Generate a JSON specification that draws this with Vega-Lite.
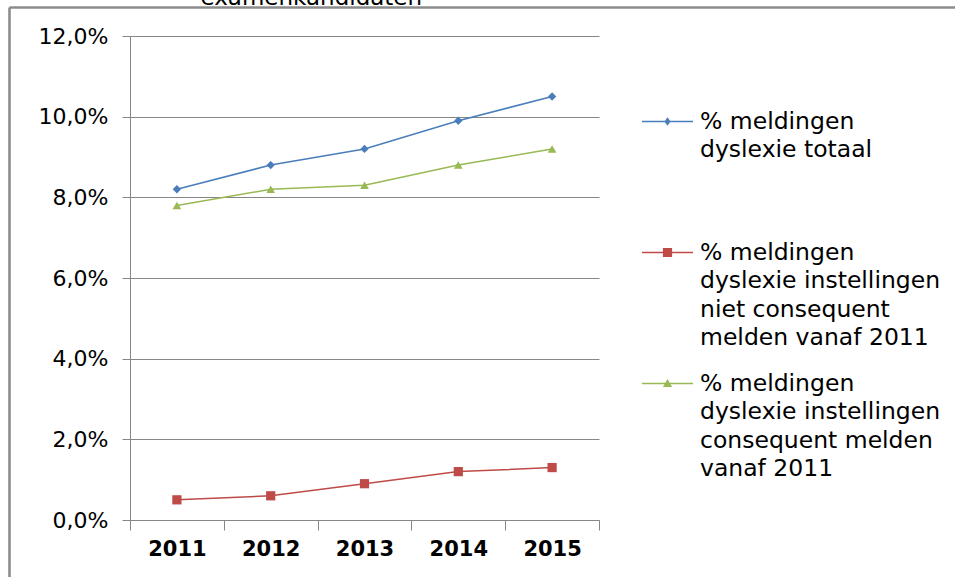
{
  "$schema": "https://vega.github.io/schema/vega-lite/v6.json",
  "width": 946,
  "height": 570,
  "autosize": {"type": "none"},
  "padding": {"left": 9, "top": 7, "right": 0, "bottom": 0},
  "background": "white",
  "data": {
    "values": [
      {"year": "2011", "series": "A", "value": 8.2},
      {"year": "2012", "series": "A", "value": 8.8},
      {"year": "2013", "series": "A", "value": 9.2},
      {"year": "2014", "series": "A", "value": 9.9},
      {"year": "2015", "series": "A", "value": 10.5},
      {"year": "2011", "series": "B", "value": 0.5},
      {"year": "2012", "series": "B", "value": 0.6},
      {"year": "2013", "series": "B", "value": 0.9},
      {"year": "2014", "series": "B", "value": 1.2},
      {"year": "2015", "series": "B", "value": 1.3},
      {"year": "2011", "series": "C", "value": 7.8},
      {"year": "2012", "series": "C", "value": 8.2},
      {"year": "2013", "series": "C", "value": 8.3},
      {"year": "2014", "series": "C", "value": 8.8},
      {"year": "2015", "series": "C", "value": 9.2}
    ]
  },
  "layer": [
    {
      "encoding": {
        "x": {
          "field": "year", "type": "ordinal",
          "scale": {"type": "band", "paddingInner": 0, "paddingOuter": 0, "range": [121, 590]},
          "axis": {"title": null, "orient": "bottom", "offset": -57, "labelAngle": 0, "tickBand": "extent", "tickSize": 10, "labelPadding": 8, "labelFontSize": 21, "labelFontWeight": "bold", "labelColor": "black", "domainColor": "#868686", "tickColor": "#868686", "grid": false}
        },
        "y": {
          "field": "value", "type": "quantitative",
          "scale": {"domain": [0, 12], "nice": false, "range": [513, 29]},
          "axis": {"title": null, "orient": "left", "offset": -121, "values": [0, 2, 4, 6, 8, 10, 12], "labelExpr": "replace(format(datum.value, '.1f'), '.', ',') + '%'", "tickSize": 8, "labelPadding": 14, "labelFontSize": 22, "labelColor": "black", "domainColor": "#868686", "tickColor": "#868686", "gridColor": "#868686", "gridOpacity": 1}
        },
        "color": {
          "field": "series", "type": "nominal",
          "scale": {"domain": ["A", "B", "C"], "range": ["#4A7EBB", "#BE4B48", "#98B954"]},
          "legend": {
            "orient": "none", "legendX": 633, "legendY": 89, "title": null,
            "labelFontSize": 23.5, "labelColor": "black", "labelLimit": 400, "labelOffset": 7,
            "symbolSize": 2601, "symbolType": "M-1,-0.03L1,-0.03L1,0.03L-1,0.03Z", "symbolStrokeWidth": 0, "rowPadding": 8,
            "labelExpr": "datum.value == 'A' ? ['% meldingen', 'dyslexie totaal', '', ''] : datum.value == 'B' ? ['% meldingen', 'dyslexie instellingen', 'niet consequent', 'melden vanaf 2011'] : ['% meldingen', 'dyslexie instellingen', 'consequent melden', 'vanaf 2011']",
            "encode": {
              "labels": {"update": {"lineHeight": {"value": 28.5}}},
              "symbols": {"update": {
                "shape": {"signal": "datum.value == 'A' ? 'M-1,-0.03L1,-0.03L1,0.03L-1,0.03Z M0,-0.17L0.12,0L0,0.17L-0.12,0Z' : datum.value == 'B' ? 'M-1,-0.03L1,-0.03L1,0.03L-1,0.03Z M-0.18,-0.18L0.18,-0.18L0.18,0.18L-0.18,0.18Z' : 'M-1,-0.03L1,-0.03L1,0.03L-1,0.03Z M0,-0.18L0.18,0.14L-0.18,0.14Z'"},
                "size": {"value": 2601},
                "fill": {"signal": "scale('color', datum.value)"},
                "fillOpacity": {"value": 1},
                "opacity": {"value": 1},
                "strokeWidth": {"value": 0}
              }}
            }
          }
        }
      },
      "layer": [
        {"mark": {"type": "line", "strokeWidth": 1.5}},
        {"transform": [{"filter": "datum.series == 'A'"}], "mark": {"type": "point", "filled": true, "opacity": 1, "shape": "diamond", "size": 70}},
        {"transform": [{"filter": "datum.series == 'B'"}], "mark": {"type": "point", "filled": true, "opacity": 1, "shape": "square", "size": 85}},
        {"transform": [{"filter": "datum.series == 'C'"}], "mark": {"type": "point", "filled": true, "opacity": 1, "shape": "triangle-up", "size": 75}}
      ]
    },
    {
      "mark": {"type": "point", "opacity": 0},
      "encoding": {
        "x": {"field": "value", "type": "quantitative", "scale": {"range": [0, 946]}, "axis": {"orient": "top", "title": "examenkandidaten", "titleX": 191, "titleY": -3, "titleAlign": "left", "titleAnchor": "start", "titleBaseline": "alphabetic", "titleFontSize": 23, "titleFontWeight": "normal", "titleColor": "black", "labels": false, "ticks": false, "grid": false, "minExtent": 0, "maxExtent": 0, "domainCap": "butt", "domainColor": "#8c8c8c", "domainWidth": 2.6}},
        "y": {"field": "value", "type": "quantitative", "axis": {"orient": "left", "title": null, "labels": false, "ticks": false, "grid": false, "minExtent": 0, "maxExtent": 0, "domainCap": "butt", "domainColor": "#8c8c8c", "domainWidth": 2.6}}
      }
    }
  ],
  "resolve": {"scale": {"x": "independent", "y": "independent"}, "axis": {"x": "independent", "y": "independent"}},
  "config": {"font": "DejaVu Sans", "view": {"stroke": null}}
}
